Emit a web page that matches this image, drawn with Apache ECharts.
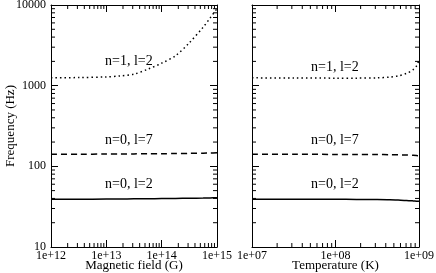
<!DOCTYPE html>
<html><head><meta charset="utf-8">
<script src="https://cdn.jsdelivr.net/npm/echarts@6/dist/echarts.min.js"></script>
<style>html,body{margin:0;padding:0;background:#fff}#c{width:436px;height:273px}</style>
</head><body><div id="c"></div>
<script>
// Left panel: magnetic field (G)
const fieldB = [1e12, 3.16e12, 1e13, 1.78e13, 3.16e13, 5.62e13, 1e14, 1.78e14, 3.16e14, 5.62e14, 7.5e14, 1e15];
const fieldDotted = [1250, 1260, 1285, 1320, 1390, 1600, 1900, 2350, 3400, 5300, 6900, 9000];   // n=1, l=2
const fieldDashed = [141, 141.3, 142, 142.3, 142.7, 143, 143.5, 144, 144.8, 145.5, 146.2, 147]; // n=0, l=7
const fieldSolid  = [39, 39.1, 39.3, 39.4, 39.5, 39.6, 39.8, 40, 40.2, 40.4, 40.6, 40.8];       // n=0, l=2
// Right panel: temperature (K)
const tempT = [1e7, 3.16e7, 1e8, 1.78e8, 3.16e8, 4.47e8, 5.62e8, 7.08e8, 8.51e8, 9.33e8, 1e9];
const tempDotted = [1250, 1245, 1240, 1240, 1250, 1275, 1320, 1420, 1580, 1750, 2080];
const tempDashed = [141, 141, 140.5, 140.3, 140, 139.5, 139, 138, 137, 136, 135];
const tempSolid  = [39, 39, 39, 38.9, 38.8, 38.6, 38.2, 37.8, 37.3, 37, 36.8];
// Axes
const fieldRange = [1e12, 1e15];
const tempRange = [1e7, 1e9];
const freqRange = [10, 10000];
const minorMult = [2, 3, 4, 5, 6, 7, 8, 9];
const fieldDecades = [12, 13, 14];
const tempDecades = [7, 8];
const freqDecades = [1, 2, 3];
const curveLabels = ['n=1, l=2', 'n=0, l=7', 'n=0, l=2'];

const FONT = 'Liberation Serif';
function minors(decs){ const out=[]; decs.forEach(d=>minorMult.forEach(m=>out.push(m*Math.pow(10,d)))); return out; }
function pairs(xs, ys){ return xs.map((x,i)=>[x, ys[i]]); }

function xAx(grid, range, pos, name, showLabel){
  return {type:'log', logBase:10, gridIndex:grid, min:range[0], max:range[1], position:pos,
    axisLine:{lineStyle:{color:'#000', width:1}},
    axisTick:{inside:true, length:7, lineStyle:{color:'#000'}},
    splitLine:{show:false},
    axisLabel:{show:showLabel, color:'#000', fontFamily:FONT, fontSize:12, margin:3,
      formatter:v=>{const n=Math.round(Math.log10(v)); return '1e+'+String(n).padStart(2,'0');}},
    name: showLabel? name : '', nameLocation:'middle', nameGap:12, nameMoveOverlap:false,
    nameTextStyle:{color:'#000', fontFamily:FONT, fontSize:13, verticalAlign:'top'}};
}
function yAx(grid, pos, name, showLabel){
  return {type:'log', logBase:10, gridIndex:grid, min:freqRange[0], max:freqRange[1], position:pos,
    axisLine:{lineStyle:{color:'#000', width:1}},
    axisTick:{inside:true, length:7, lineStyle:{color:'#000'}},
    splitLine:{show:false},
    axisLabel:{show:showLabel, color:'#000', fontFamily:FONT, fontSize:12, margin:5,
      formatter:v=>String(Math.round(v))},
    name: name, nameLocation:'middle', nameGap:34, nameMoveOverlap:false,
    nameTextStyle:{color:'#000', fontFamily:FONT, fontSize:13}};
}
function xMinorSeries(xi, yi, decs){
  return {type:'custom', xAxisIndex:xi, yAxisIndex:yi, silent:true, z:5, clip:false,
    data: minors(decs).map(v=>[v, freqRange[0]]),
    renderItem:(params, api)=>{
      const cs=params.coordSys; const x=api.coord([api.value(0), api.value(1)])[0];
      const st={stroke:'#000', lineWidth:1};
      return {type:'group', children:[
        {type:'line', shape:{x1:x,y1:cs.y+cs.height,x2:x,y2:cs.y+cs.height-4}, style:st},
        {type:'line', shape:{x1:x,y1:cs.y,x2:x,y2:cs.y+4}, style:st}]};
    }};
}
function yMinorSeries(xi, yi, xmin){
  return {type:'custom', xAxisIndex:xi, yAxisIndex:yi, silent:true, z:5, clip:false,
    data: minors(freqDecades).map(v=>[xmin, v]),
    renderItem:(params, api)=>{
      const cs=params.coordSys; const y=api.coord([api.value(0), api.value(1)])[1];
      const st={stroke:'#000', lineWidth:1};
      return {type:'group', children:[
        {type:'line', shape:{x1:cs.x,y1:y,x2:cs.x+4,y2:y}, style:st},
        {type:'line', shape:{x1:cs.x+cs.width,y1:y,x2:cs.x+cs.width-4,y2:y}, style:st}]};
    }};
}
function lineS(xi, yi, data, type){
  return {type:'line', xAxisIndex:xi, yAxisIndex:yi, data:data, showSymbol:false, symbol:'none',
    smooth:0.3, lineStyle:{color:'#000', width:1.5, type:type, cap:'butt'}, z:3};
}
function lbl(x, y, t){
  return {type:'text', x:x, y:y, style:{text:t, fill:'#000', font:'14px "Liberation Serif"', verticalAlign:'middle'}};
}

const chart = echarts.init(document.getElementById('c'), null, {renderer:'canvas'});
chart.setOption({
  backgroundColor:'#fff', animation:false,
  grid:[{left:51, top:5, width:166, bottom:26, containLabel:false, outerBoundsMode:'none'},
        {left:252, top:5, width:167, bottom:26, containLabel:false, outerBoundsMode:'none'}],
  xAxis:[xAx(0, fieldRange, 'bottom', 'Magnetic field (G)', true), xAx(0, fieldRange, 'top', '', false),
         xAx(1, tempRange, 'bottom', 'Temperature (K)', true), xAx(1, tempRange, 'top', '', false)],
  yAxis:[yAx(0, 'left', 'Frequency (Hz)', true), yAx(0, 'right', '', false),
         yAx(1, 'left', '', false), yAx(1, 'right', '', false)],
  series:[
    lineS(0,0,pairs(fieldB, fieldDotted),[1.5,3]),
    lineS(0,0,pairs(fieldB, fieldDashed),[6,4]),
    lineS(0,0,pairs(fieldB, fieldSolid),'solid'),
    lineS(2,2,pairs(tempT, tempDotted),[1.5,3]),
    lineS(2,2,pairs(tempT, tempDashed),[6,4]),
    lineS(2,2,pairs(tempT, tempSolid),'solid'),
    xMinorSeries(0,0,fieldDecades), yMinorSeries(0,0,fieldRange[0]),
    xMinorSeries(2,2,tempDecades), yMinorSeries(2,2,tempRange[0])
  ],
  graphic:[lbl(105,61,curveLabels[0]), lbl(105,140,curveLabels[1]), lbl(105,184,curveLabels[2]),
           lbl(311,67,curveLabels[0]), lbl(311,140,curveLabels[1]), lbl(311,184,curveLabels[2])]
});
</script></body></html>
